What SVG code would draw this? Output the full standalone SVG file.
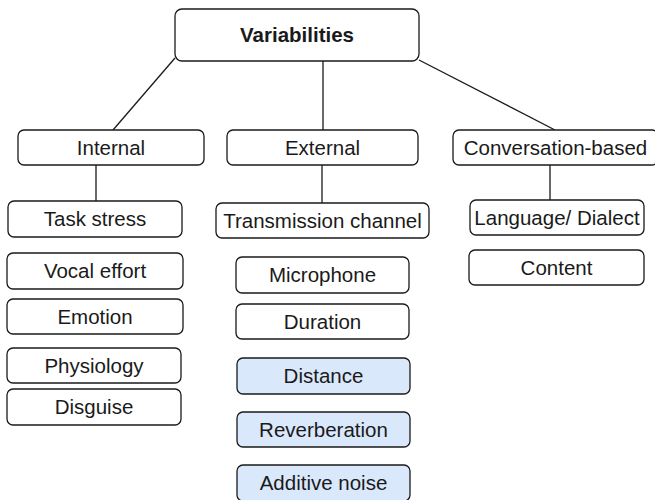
<svg xmlns="http://www.w3.org/2000/svg" width="655" height="500" viewBox="0 0 655 500">
<style>
.box{fill:#ffffff;stroke:#1a1a1a;stroke-width:1.3}
.blue{fill:#dae8fc;stroke:#1a1a1a;stroke-width:1.3}
.t{font-family:"Liberation Sans",Arial,sans-serif;font-size:20.5px;fill:#1a1a1a;text-anchor:middle}
.b{font-weight:bold}
.c{stroke:#1a1a1a;stroke-width:1.3;fill:none}
</style>
<rect width="655" height="500" fill="#ffffff"/>
<g id="connectors">
<line class="c" x1="175" y1="58" x2="113" y2="130"/>
<line class="c" x1="323" y1="61" x2="323" y2="130"/>
<line class="c" x1="419" y1="60" x2="555" y2="130"/>
<line class="c" x1="96" y1="165" x2="96" y2="201"/>
<line class="c" x1="322" y1="165" x2="322" y2="203"/>
<line class="c" x1="550" y1="165" x2="550" y2="200"/>
</g>
<g id="variabilities"><rect class="box" x="175" y="9" width="244" height="52" rx="7"/><text class="t b" x="297" y="42">Variabilities</text></g>
<g id="internal"><rect class="box" x="18" y="130" width="186" height="35" rx="6"/><text class="t" x="111" y="154.5">Internal</text></g>
<g id="external"><rect class="box" x="227" y="130" width="191" height="35" rx="6"/><text class="t" x="322.5" y="154.5">External</text></g>
<g id="conversation"><rect class="box" x="453" y="130" width="205" height="35" rx="6"/><text class="t" x="555.5" y="154.5">Conversation-based</text></g>
<g id="task-stress"><rect class="box" x="8" y="201" width="174" height="36" rx="6"/><text class="t" x="95" y="226">Task stress</text></g>
<g id="transmission"><rect class="box" x="216" y="203" width="213" height="35" rx="6"/><text class="t" x="322.5" y="227.5">Transmission channel</text></g>
<g id="language"><rect class="box" x="470" y="200" width="174" height="35" rx="6"/><text class="t" x="557" y="224.5">Language/ Dialect</text></g>
<g id="content"><rect class="box" x="469" y="250" width="175" height="35" rx="6"/><text class="t" x="556.5" y="274.5">Content</text></g>
<g id="vocal-effort"><rect class="box" x="7" y="253" width="176" height="36" rx="6"/><text class="t" x="95" y="278">Vocal effort</text></g>
<g id="emotion"><rect class="box" x="7" y="299" width="176" height="35" rx="6"/><text class="t" x="95" y="323.5">Emotion</text></g>
<g id="physiology"><rect class="box" x="7" y="348" width="174" height="35" rx="6"/><text class="t" x="94" y="372.5">Physiology</text></g>
<g id="disguise"><rect class="box" x="7" y="389" width="174" height="36" rx="6"/><text class="t" x="94" y="414">Disguise</text></g>
<g id="microphone"><rect class="box" x="236" y="257" width="173" height="36" rx="6"/><text class="t" x="322.5" y="282">Microphone</text></g>
<g id="duration"><rect class="box" x="236" y="304" width="173" height="35" rx="6"/><text class="t" x="322.5" y="328.5">Duration</text></g>
<g id="distance"><rect class="blue" x="237" y="358" width="173" height="36" rx="6"/><text class="t" x="323.5" y="383">Distance</text></g>
<g id="reverberation"><rect class="blue" x="237" y="412" width="173" height="35" rx="6"/><text class="t" x="323.5" y="436.5">Reverberation</text></g>
<g id="additive-noise"><rect class="blue" x="237" y="465" width="173" height="36" rx="6"/><text class="t" x="323.5" y="490">Additive noise</text></g>
</svg>
